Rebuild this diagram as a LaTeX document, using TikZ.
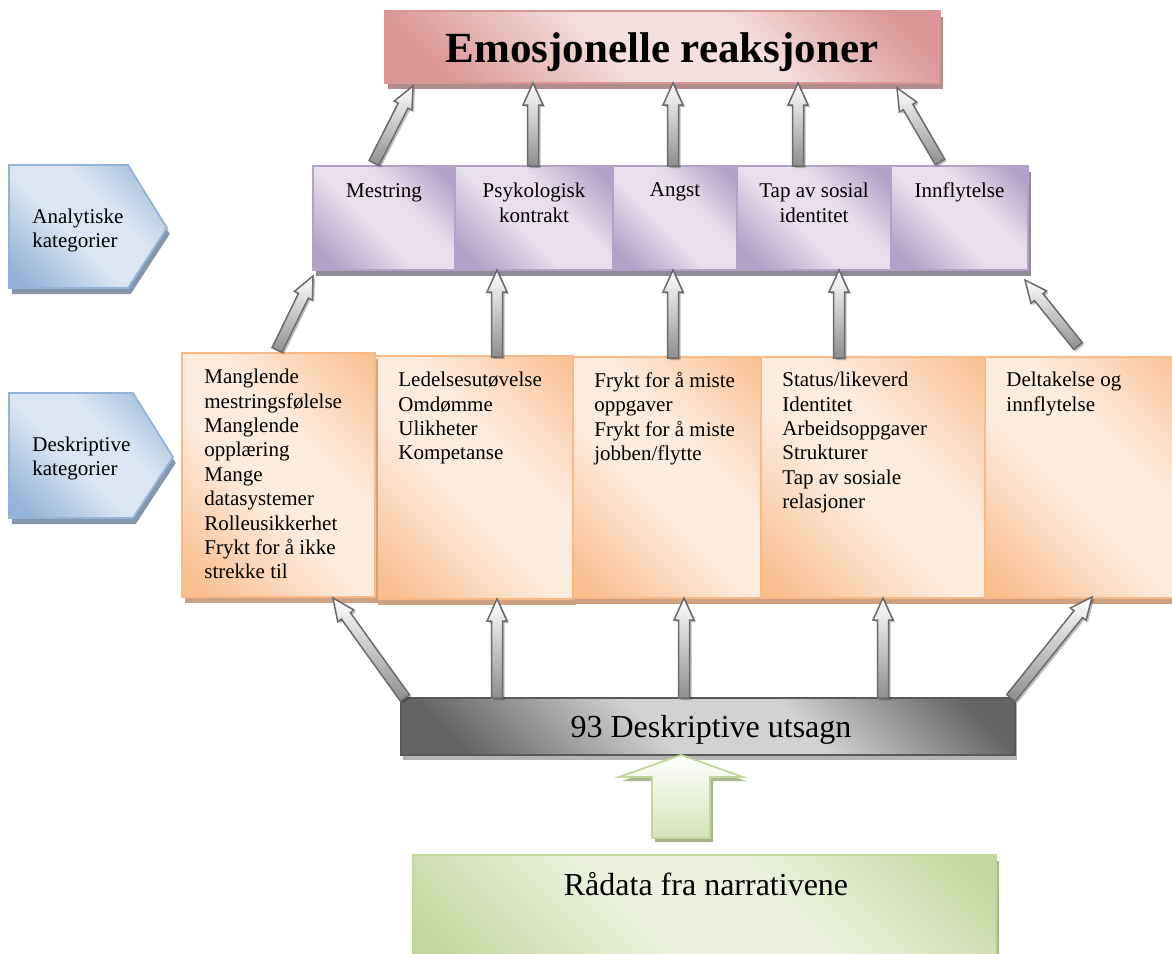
\documentclass[tikz,border=0pt]{standalone}
\usepackage{fontspec}
\setmainfont{Liberation Serif}
\usetikzlibrary{calc,fit,shadows}

% palette
\definecolor{rdark}{HTML}{D99694}\definecolor{rlight}{HTML}{F4E0DF}\definecolor{rshadow}{HTML}{B08C8C}
\definecolor{pdark}{HTML}{B3A2C7}\definecolor{plight}{HTML}{E6E0EC}\definecolor{pshadow}{HTML}{8F8C95}
\definecolor{odark}{HTML}{F9BE8E}\definecolor{olight}{HTML}{FDEBDD}\definecolor{oborder}{HTML}{F8B987}\definecolor{oshadow}{HTML}{CFA183}
\definecolor{bdark}{HTML}{95B3D7}\definecolor{blight}{HTML}{DCE6F2}\definecolor{bshadow}{HTML}{8797AB}
\definecolor{kdark}{HTML}{646464}\definecolor{klight}{HTML}{D2D2D2}\definecolor{kborder}{HTML}{595959}\definecolor{kshadow}{HTML}{B4B4B4}
\definecolor{gdark}{HTML}{C3D69B}\definecolor{glight}{HTML}{EBF1DE}\definecolor{gshadow}{HTML}{A9B590}
\definecolor{aline}{HTML}{6B6B6B}\definecolor{afill}{HTML}{8E8E8E}

% diagonal fills: dark corners, wide light band in the middle
\newcommand\bandshading[5]{%
  \pgfdeclareverticalshading{#1}{100bp}{color(0bp)=(#2); color(#4bp)=(#2); color(44bp)=(#3);
    color(60bp)=(#3); color(#5bp)=(#2); color(100bp)=(#2)}}
\bandshading{redband}{rdark}{rlight}{22}{80}
\bandshading{purpleband}{pdark}{plight}{22}{80}
\bandshading{orangeband}{odark}{olight}{18}{86}
\bandshading{blueband}{bdark}{blight}{20}{84}
\bandshading{grayband}{kdark}{klight}{22}{80}
\bandshading{greenband}{gdark}{glight}{20}{84}

% block arrow: style, tail, tip, half shaft width, half head width, head length
\newcommand\blockarrow[6]{%
  \coordinate (ba-neck) at ($(#3)!#6!(#2)$);
  \path[#1] ($(#2)!#4!90:(#3)$) -- ($(ba-neck)!#4!90:(#3)$) -- ($(ba-neck)!#5!90:(#3)$) -- (#3)
    -- ($(ba-neck)!#5!-90:(#3)$) -- ($(ba-neck)!#4!-90:(#3)$) -- ($(#2)!#4!-90:(#3)$) -- cycle;
}

\tikzset{
  cell/.style={inner sep=0pt, outer sep=0pt, line width=0.9pt},
  sh/.style={drop shadow={shadow xshift=1.4pt, shadow yshift=-3pt, fill=#1, opacity=1}},
  band/.style={shade, shading=#1, shading angle=-45},
  titlebox/.style={cell, draw=rdark, band=redband, sh=rshadow},
  purplebox/.style={cell, draw=pdark, band=purpleband, sh=pshadow},
  orangebox/.style={cell, draw=oborder, band=orangeband, sh=oshadow},
  bluebox/.style={line width=0.9pt, draw=bdark, band=blueband, sh=bshadow},
  graybox/.style={cell, draw=kborder, band=grayband,
    drop shadow={shadow xshift=1pt, shadow yshift=-2.5pt, fill=kshadow, opacity=1}},
  greenbox/.style={cell, draw=gdark, band=greenband, sh=gshadow},
  grayarrow/.style={draw=aline, line width=0.75pt, line join=miter, top color=white, bottom color=afill,
    drop shadow={shadow xshift=1pt, shadow yshift=-1pt, fill=black, opacity=0.25}},
  greenarrow/.style={draw=gdark, line width=0.9pt, top color=white, bottom color=gdark!70,
    drop shadow={shadow xshift=1.5pt, shadow yshift=-2pt, fill=gshadow, opacity=1}},
  body/.style={inner sep=0pt, font=\fontsize{10.5}{12.2}\selectfont},
  bodyleft/.style={body, align=left, anchor=north west},
  bodycenter/.style={body, align=center, anchor=north},
  big/.style={inner sep=0pt, anchor=base, font=\fontsize{16}{19}\selectfont},
}

\begin{document}
\begin{tikzpicture}[x=0.5pt, y=-0.5pt]
\useasboundingbox (0,0) rectangle (1172,953);

% side chevrons
\path[bluebox] (9,165) -- (128,165) -- (167,228) -- (128,288) -- (9,288) -- cycle;
\node[bodyleft, font=\fontsize{10.5}{12}\selectfont] (anlbl) at (32,209) {Analytiske\\kategorier};
\path[bluebox] (9,393) -- (133,393) -- (173,457) -- (133,518) -- (9,518) -- cycle;
\node[bodyleft, font=\fontsize{10.5}{11.6}\selectfont] (delbl) at (32,437) {Deskriptive\\kategorier};

% top box
\node[titlebox, fit={(385,11) (940,83)}] (ttl) {};
\node[inner sep=0pt, anchor=base, font=\fontsize{21.5}{26}\selectfont\bfseries] (ttltxt) at (662,62) {Emosjonelle reaksjoner};

% analytic categories
\node[purplebox, fit={(313,166) (455,270)}] (mes) {};
\node[purplebox, fit={(455,166) (613,270)}] (psy) {};
\node[purplebox, fit={(613,166) (737,270)}] (ang) {};
\node[purplebox, fit={(737,166) (891,270)}] (tap) {};
\node[purplebox, fit={(891,166) (1028,270)}] (inn) {};
\node[bodycenter] (mestxt) at (384,182.7) {Mestring};
\node[bodycenter] (psytxt) at (534,182.7) {Psykologisk\\kontrakt};
\node[bodycenter] (angtxt) at (675,182.7) {Angst};
\node[bodycenter] (taptxt) at (814,182.7) {Tap av sosial\\identitet};
\node[bodycenter] (inntxt) at (959.5,182.7) {Innflytelse};

% descriptive categories
\node[orangebox, fit={(375,356) (573,599)}] (d2) {};
\node[orangebox, fit={(573,357) (761,598)}] (d3) {};
\node[orangebox, fit={(761,357) (985,598)}] (d4) {};
\node[orangebox, fit={(985,357) (1190,598)}] (d5) {};
\node[orangebox, fit={(182,353) (375,597)}] (d1) {};
\node[bodyleft] (d1txt) at (204,368.7) {Manglende\\mestringsfølelse\\Manglende\\opplæring\\Mange\\datasystemer\\Rolleusikkerhet\\Frykt for å ikke\\strekke til};
\node[bodyleft] (d2txt) at (398,371.7) {Ledelsesutøvelse\\Omdømme\\Ulikheter\\Kompetanse};
\node[bodyleft] (d3txt) at (594,371.7) {Frykt for å miste\\oppgaver\\Frykt for å miste\\jobben/flytte};
\node[bodyleft] (d4txt) at (782,371.7) {Status/likeverd\\Identitet\\Arbeidsoppgaver\\Strukturer\\Tap av sosiale\\relasjoner};
\node[bodyleft] (d5txt) at (1006,371.7) {Deltakelse og\\innflytelse};

% statements and raw data
\node[graybox, fit={(401,698) (1015,755)}] (utsagn) {};
\node[big] (utsagntxt) at (711,737) {93 Deskriptive utsagn};
\node[greenbox, fit={(413,855) (996,990)}] (raw) {};
\node[big] (rawtxt) at (706,895) {Rådata fra narrativene};

% connector end points
\coordinate (a1t) at (374,163); \coordinate (a1h) at (413,86);
\coordinate (a2t) at (533,166); \coordinate (a2h) at (a2t |- ttl.south);
\coordinate (a3t) at (673,166); \coordinate (a3h) at (a3t |- ttl.south);
\coordinate (a4t) at (798,166); \coordinate (a4h) at (a4t |- ttl.south);
\coordinate (a5t) at (940,162); \coordinate (a5h) at (897,88);

\coordinate (b1t) at (277,350); \coordinate (b1h) at (313,276);
\coordinate (b2t) at (497,357); \coordinate (b2h) at (b2t |- psy.south);
\coordinate (b3t) at (673,358); \coordinate (b3h) at (b3t |- ang.south);
\coordinate (b4t) at (839,358); \coordinate (b4h) at (b4t |- tap.south);
\coordinate (b5t) at (1078,346); \coordinate (b5h) at (1025,280);

\coordinate (c1t) at (405,698); \coordinate (c1h) at (333,598);
\coordinate (c2t) at (497,698); \coordinate (c2h) at (c2t |- d2.south);
\coordinate (c3t) at (684,698); \coordinate (c3h) at (c3t |- d3.south);
\coordinate (c4t) at (883,698); \coordinate (c4h) at (c4t |- d4.south);
\coordinate (c5t) at (1011,698); \coordinate (c5h) at (1092,597);

\coordinate (gt) at (681,838); \coordinate (gh) at (gt |- utsagn.south);

% connectors
\foreach \r in {a,b,c}{
  \foreach \i in {1,...,5}{
    \blockarrow{grayarrow}{\r\i t}{\r\i h}{2.75pt}{5pt}{11pt}
  }
}
\blockarrow{greenarrow}{gt}{gh}{14.5pt}{31pt}{11pt}
\end{tikzpicture}
\end{document}
